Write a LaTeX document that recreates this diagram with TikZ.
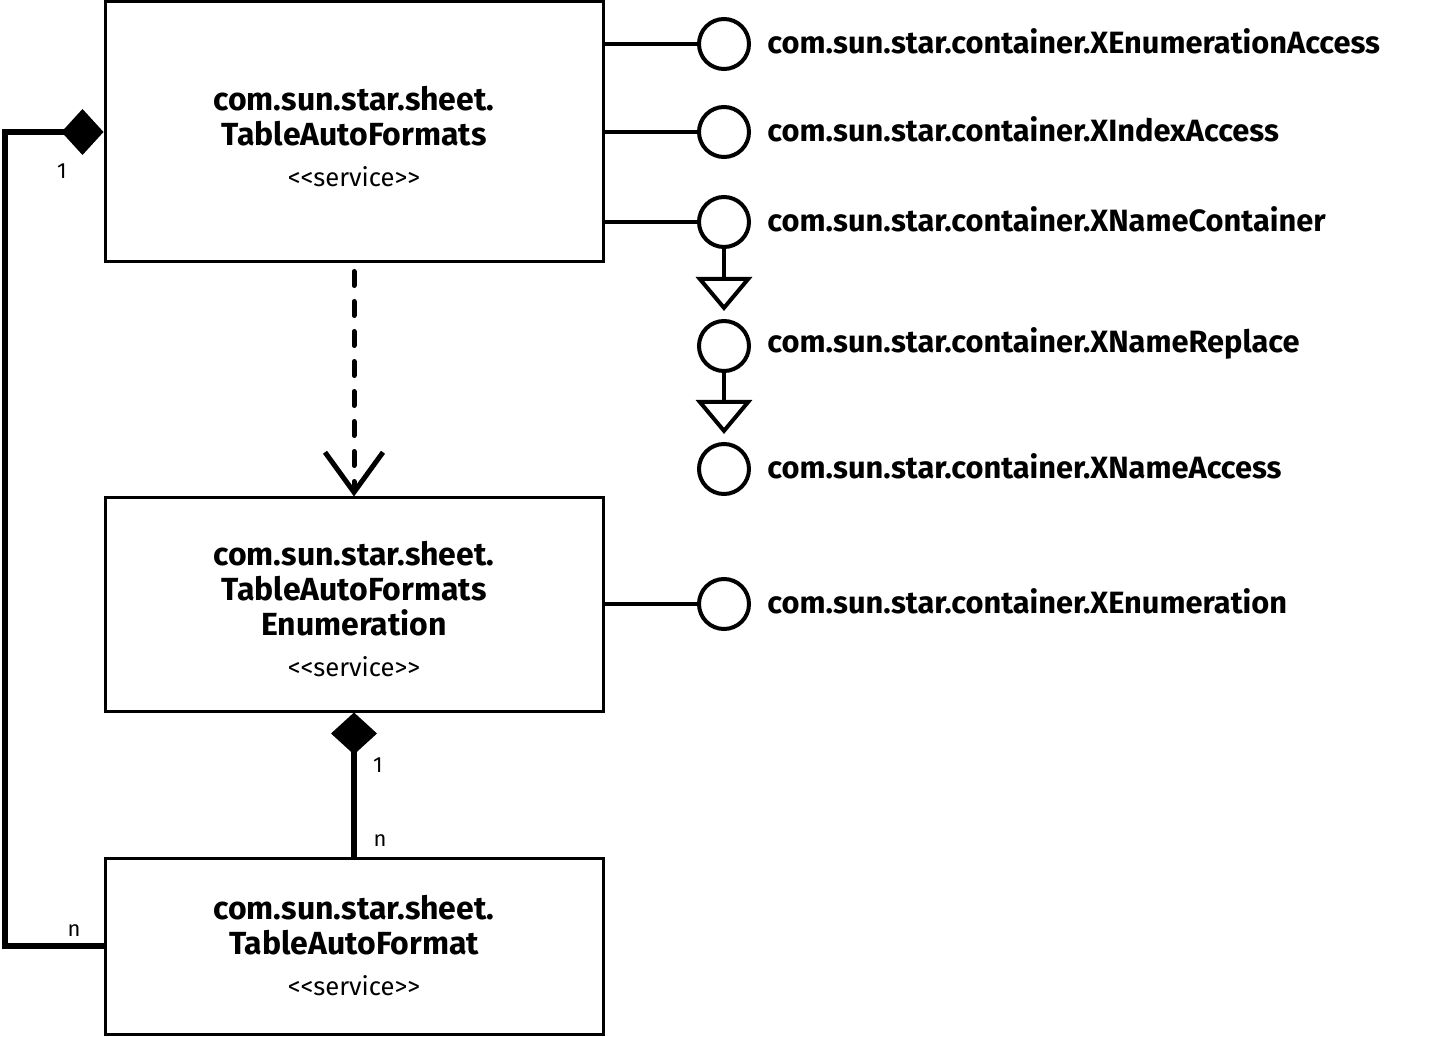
\documentclass[tikz,border=0pt]{standalone}
\usepackage{fontspec}
\setmainfont{Fira Sans}
\usetikzlibrary{arrows.meta,positioning}

\tikzset{
  svcbox/.style={draw, line width=1.5pt, minimum width=249pt, align=center, inner sep=0pt,
    font=\fontsize{16pt}{17.5pt}\selectfont\bfseries},
  iface/.style={draw, circle, line width=2pt, minimum size=25pt, inner sep=0pt},
  ifacelabel/.style={anchor=west, inner sep=0pt, font=\fontsize{15.4pt}{17pt}\selectfont\bfseries},
  lolli/.style={line width=2pt},
  inherit/.style={line width=2pt, -{Triangle[open, length=17pt, width=28pt]}, shorten >=4pt},
  depend/.style={line width=2.5pt, line cap=round, dash pattern=on 7pt off 8pt,
    -{Straight Barb[length=20pt, width=29pt, line cap=butt]}},
  comp/.style={line width=3pt, {Diamond[length=21pt, width=23pt]}-},
  mult/.style={font=\fontsize{11pt}{13pt}\selectfont, inner sep=0pt},
}
% << sin ligadura
\newcommand{\svctag}{\\[3pt]{\fontsize{12.8pt}{14pt}\selectfont\mdseries <\kern0pt<service>\kern0pt>}}
\newcommand{\svctop}{\rule{0pt}{17pt}}

\begin{document}
\begin{tikzpicture}[x=0.5pt, y=-0.5pt]
    \useasboundingbox (0,0) rectangle (1430,1037);

    % Servicios
    \node[svcbox, minimum height=130pt] (formats) at (354,132)
        {\svctop com.sun.star.sheet.\\TableAutoFormats\svctag};
    \node[svcbox, minimum height=106.5pt] (formatsenum) at (354,604.5)
        {\svctop com.sun.star.sheet.\\TableAutoFormats\\Enumeration\svctag};
    \node[svcbox, minimum height=88pt] (format) at (354,946)
        {com.sun.star.sheet.\\TableAutoFormat\svctag};

    % Interfaces de TableAutoFormats
    \node[iface] (enumaccess) at (724,44) {};
    \node[iface] (indexaccess) at (724,132) {};
    \node[iface] (namecont) at (724,222) {};
    \node[iface] (namerepl) at (724,346) {};
    \node[iface] (nameaccess) at (724,469) {};
    \node[ifacelabel] (enumaccesslbl) at (767,41) {com.sun.star.container.XEnumerationAccess};
    \node[ifacelabel] (indexaccesslbl) at (767,129) {com.sun.star.container.XIndexAccess};
    \node[ifacelabel] (namecontlbl) at (767,219) {com.sun.star.container.XNameContainer};
    \node[ifacelabel] (namerepllbl) at (767,343) {com.sun.star.container.XNameReplace};
    \node[ifacelabel] (nameaccesslbl) at (767,466) {com.sun.star.container.XNameAccess};
    \draw[lolli] (formats.east |- enumaccess) -- (enumaccess);
    \draw[lolli] (formats.east |- indexaccess) -- (indexaccess);
    \draw[lolli] (formats.east |- namecont) -- (namecont);

    % Herencia entre interfaces
    \draw[inherit] (namecont) -- (namerepl);
    \draw[inherit] (namerepl) -- (nameaccess);

    % Interfaz de la enumeracion
    \node[iface] (enumeration) at (724,604) {};
    \node[ifacelabel] (enumerationlbl) at (767,601) {com.sun.star.container.XEnumeration};
    \draw[lolli] (formatsenum.east |- enumeration) -- (enumeration);

    % Dependencia
    \draw[depend] ([yshift=-4pt]formats.south) -- (formatsenum.north);

    % Composiciones
    \coordinate (bend) at (5,0);
    \draw[comp, line join=miter] (formats.west) -| (bend |- format.west) -- (format.west);
    \draw[comp] (formatsenum.south) -- (format.north);
    \node[mult] (onea) at (62,171) {1};
    \node[mult] (na) at (74,931) {n};
    \node[mult] (oneb) at (378,765) {1};
    \node[mult] (nb) at (380,841) {n};
\end{tikzpicture}
\end{document}
